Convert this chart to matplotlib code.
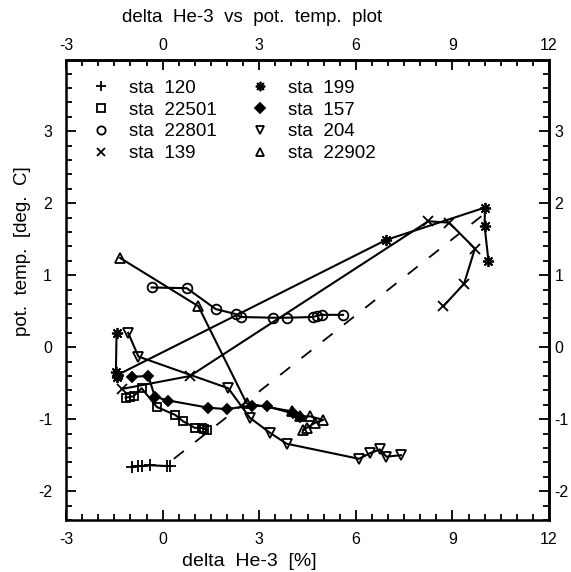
import numpy as np
import matplotlib
matplotlib.use("Agg")
import matplotlib.pyplot as plt
from matplotlib.ticker import MultipleLocator, FixedLocator

plt.rcParams['font.family'] = ['Liberation Sans', 'DejaVu Sans']
plt.rcParams['axes.unicode_minus'] = False

# station profiles: delta He-3 [%] , pot. temp. [deg C]
sta120_x = [-0.96, -0.76, -0.65, -0.39, 0.13, 0.23]
sta120_y = [-1.66, -1.65, -1.65, -1.64, -1.65, -1.65]

sta22501_x = [-1.15, -1.0, -0.9, -0.65, -0.18, 0.39, 0.64, 1.0, 1.21, 1.37, 1.3]
sta22501_y = [-0.70, -0.69, -0.68, -0.57, -0.83, -0.94, -1.03, -1.12, -1.12, -1.15, -1.13]

sta22801_x = [-0.34, 0.75, 1.65, 2.28, 2.42, 3.44, 3.85, 4.68, 4.8, 4.95, 5.6]
sta22801_y = [0.83, 0.82, 0.53, 0.46, 0.42, 0.41, 0.41, 0.42, 0.44, 0.45, 0.45]

sta139_x = [-1.27, 0.85, 8.25, 8.9, 9.70, 9.36, 8.72]
sta139_y = [-0.58, -0.40, 1.75, 1.73, 1.37, 0.88, 0.57]

sta199_x = [-1.43, -1.45, -1.42, -1.38, 6.94, 10.01, 10.0, 10.12]
sta199_y = [0.20, -0.35, -0.42, -0.38, 1.49, 1.94, 1.68, 1.20]

sta157_x = [-0.96, -0.44, -0.24, 0.18, 1.42, 1.99, 2.77, 3.23, 4.05, 4.27]
sta157_y = [-0.41, -0.40, -0.69, -0.74, -0.84, -0.86, -0.81, -0.82, -0.92, -0.97]

sta204_x = [-1.07, -0.75, 2.04, 2.71, 3.34, 3.85, 6.1, 6.45, 6.75, 6.95, 7.4]
sta204_y = [0.20, -0.13, -0.57, -0.98, -1.19, -1.34, -1.55, -1.47, -1.42, -1.52, -1.50]

sta22902_x = [-1.32, 1.11, 2.61, 4.01, 4.27, 4.58, 4.99, 4.73, 4.47, 4.37]
sta22902_y = [1.24, 0.57, -0.78, -0.89, -0.96, -0.96, -1.01, -1.05, -1.12, -1.15]

# mixing line (dashed)
mix_x = [0.35, 9.9]
mix_y = [-1.55, 1.82]

xticks = [-3, 0, 3, 6, 9, 12]
yticks = [-2, -1, 0, 1, 2, 3]

fig = plt.figure(figsize=(5.71, 5.72), dpi=100)
ax = fig.add_axes([66/571, 1-520/572, 483/571, 460/572])

kw = dict(color='black', lw=1.5, mew=1.3)
ax.plot(sta120_x, sta120_y, marker='+', ms=8, label='sta  120', **kw)
ax.plot(sta22501_x, sta22501_y, marker='s', ms=6, mfc='none', label='sta  22501', **kw)
ax.plot(sta22801_x, sta22801_y, marker='o', ms=7, mfc='none', label='sta  22801', **kw)
ax.plot(sta139_x, sta139_y, marker='x', ms=7, label='sta  139', **kw)
ax.plot(sta199_x, sta199_y, marker=(8, 2, 0), ms=8, label='sta  199', **kw)
ax.plot(sta157_x, sta157_y, marker='D', ms=5.5, label='sta  157', **kw)
ax.plot(sta204_x, sta204_y, marker='v', ms=7, mfc='none', label='sta  204', **kw)
ax.plot(sta22902_x, sta22902_y, marker='^', ms=7, mfc='none', label='sta  22902', **kw)
ax.plot(mix_x, mix_y, color='black', lw=1.3, dashes=(7, 8))

ax.set_xlim(-3, 12)
ax.set_ylim(-2.4, 3.99)
ax.set_xticks(xticks)
ax.set_yticks(yticks)
ax.xaxis.set_minor_locator(MultipleLocator(0.5))
ax.yaxis.set_minor_locator(MultipleLocator(0.2))
ax.tick_params(which='both', direction='in', labelsize=11.5, width=1.3)
ax.tick_params(which='major', length=7)
ax.tick_params(which='minor', length=4)
ax.tick_params(axis='x', pad=8.5)
ax.tick_params(axis='y', pad=10)
for s in ax.spines.values():
    s.set_linewidth(1.8)

# duplicate scales on top and right
top = ax.secondary_xaxis('top')
right = ax.secondary_yaxis('right')
top.set_xticks(xticks)
right.set_yticks(yticks)
top.xaxis.set_minor_locator(FixedLocator(np.arange(-3, 12.01, 0.5)))
right.yaxis.set_minor_locator(FixedLocator(np.arange(-2.4, 3.95, 0.2)))
for sec, p in ((top, 5), (right, 4)):
    sec.tick_params(which='both', direction='in', labelsize=11.5, width=1.3, pad=p)
    sec.tick_params(which='major', length=7)
    sec.tick_params(which='minor', length=4)
    for s in sec.spines.values():
        s.set_linewidth(1.8)

# legend without frame, markers only
h, l = ax.get_legend_handles_labels()
leg = ax.legend(h, l, ncol=2, loc='upper left', bbox_to_anchor=(0.018, 0.994),
                frameon=False, fontsize=13.5, handlelength=1.0, handletextpad=1.0,
                columnspacing=1.8, labelspacing=0.25, markerscale=0.85)
for lh in leg.get_lines():
    lh.set_linestyle('none')

ax.set_xlabel('delta  He-3  [%]', fontsize=14)
ax.xaxis.set_label_coords(0.38, -0.072)
ax.set_ylabel('pot.  temp.  [deg.  C]', fontsize=13.5)
ax.yaxis.set_label_coords(-0.072, 0.585)
fig.text(252/571, 1-18/572, 'delta  He-3  vs  pot.  temp.  plot', fontsize=13.5,
         ha='center', va='center')

fig.savefig('out.png', dpi=100)
